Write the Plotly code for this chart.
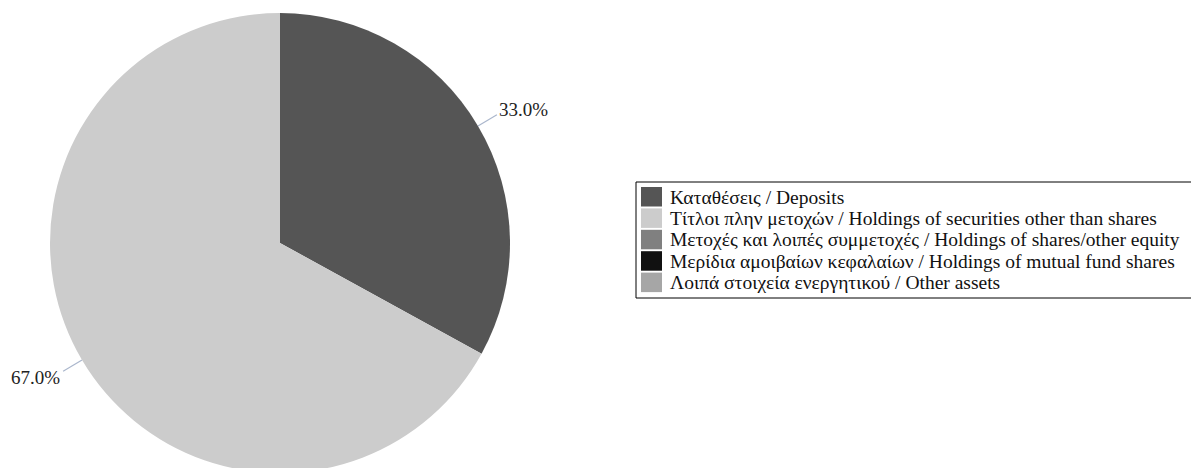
import math
import plotly.graph_objects as go

labels = [
    "Καταθέσεις / Deposits",
    "Τίτλοι πλην μετοχών / Holdings of securities other than shares",
    "Μετοχές και λοιπές συμμετοχές / Holdings of shares/other equity",
    "Μερίδια αμοιβαίων κεφαλαίων / Holdings of mutual fund shares",
    "Λοιπά στοιχεία ενεργητικού / Other assets",
]
values = [33.0, 67.0, 0.0, 0.0, 0.0]
colors = ["#555555", "#cccccc", "#808080", "#111111", "#a6a6a6"]

W, H = 1199, 480
OFF = 8  # page body margin
FONT = "Liberation Serif, Times New Roman, serif"

# pie geometry (screen pixels)
cx, top, r = 280, 13, 230
cy = top + r


def px(x):
    return (x - OFF) / W


def py(y):
    return 1 - (y - OFF) / H


fig = go.Figure()
fig.add_trace(go.Pie(
    labels=labels, values=values, sort=False, direction="clockwise", rotation=0,
    marker=dict(colors=colors, line=dict(width=0)),
    textinfo="none", hoverinfo="label+percent", showlegend=False,
    domain=dict(x=[px(cx - r), px(cx + r)], y=[py(top + 2 * r), py(top)]),
))

shapes = []
annotations = []
total = sum(values)
cum = 0.0
for v in values:
    if v <= 0:
        continue
    mid = (cum + v / 2) / total * 2 * math.pi
    cum += v
    s, c = math.sin(mid), math.cos(mid)
    x0, y0 = cx + r * s, cy - r * c
    x1, y1 = cx + (r + 22) * s, cy - (r + 22) * c
    shapes.append(dict(type="line", xref="paper", yref="paper",
                       x0=px(x0), y0=py(y0), x1=px(x1), y1=py(y1),
                       line=dict(color="#aab6cc", width=1.2)))
    right = s >= 0
    annotations.append(dict(
        xref="paper", yref="paper",
        x=px(x1 + (0 if right else -1)), y=py(y1 + (-5 if c > 0 else 6)),
        text=f"{v / total * 100:.1f}%", showarrow=False,
        xanchor="left" if right else "right", yanchor="middle",
        font=dict(family=FONT, size=19, color="#222222")))

# legend box (screen pixels)
lx0, ly0, lx1, ly1 = 636, 182, 1196, 298
row0, pitch = 187, 21.4
shapes.append(dict(type="rect", xref="paper", yref="paper",
                   x0=px(lx0), y0=py(ly0), x1=px(lx1), y1=py(ly1),
                   line=dict(color="#000000", width=1), fillcolor="rgba(0,0,0,0)"))
for i, (lab, col) in enumerate(zip(labels, colors)):
    yt = row0 + i * pitch
    shapes.append(dict(type="rect", xref="paper", yref="paper",
                       x0=px(641), y0=py(yt), x1=px(662), y1=py(yt + 19.5),
                       line=dict(width=0), fillcolor=col))
    annotations.append(dict(
        xref="paper", yref="paper", x=px(668), y=py(yt + 10),
        text=lab, showarrow=False, xanchor="left", yanchor="middle",
        font=dict(family=FONT, size=19.5, color="#111111")))

fig.update_layout(
    width=W, height=H, margin=dict(l=0, r=0, t=0, b=0),
    paper_bgcolor="white", plot_bgcolor="white",
    shapes=shapes, annotations=annotations, showlegend=False,
)
fig.write_html("out.html")
